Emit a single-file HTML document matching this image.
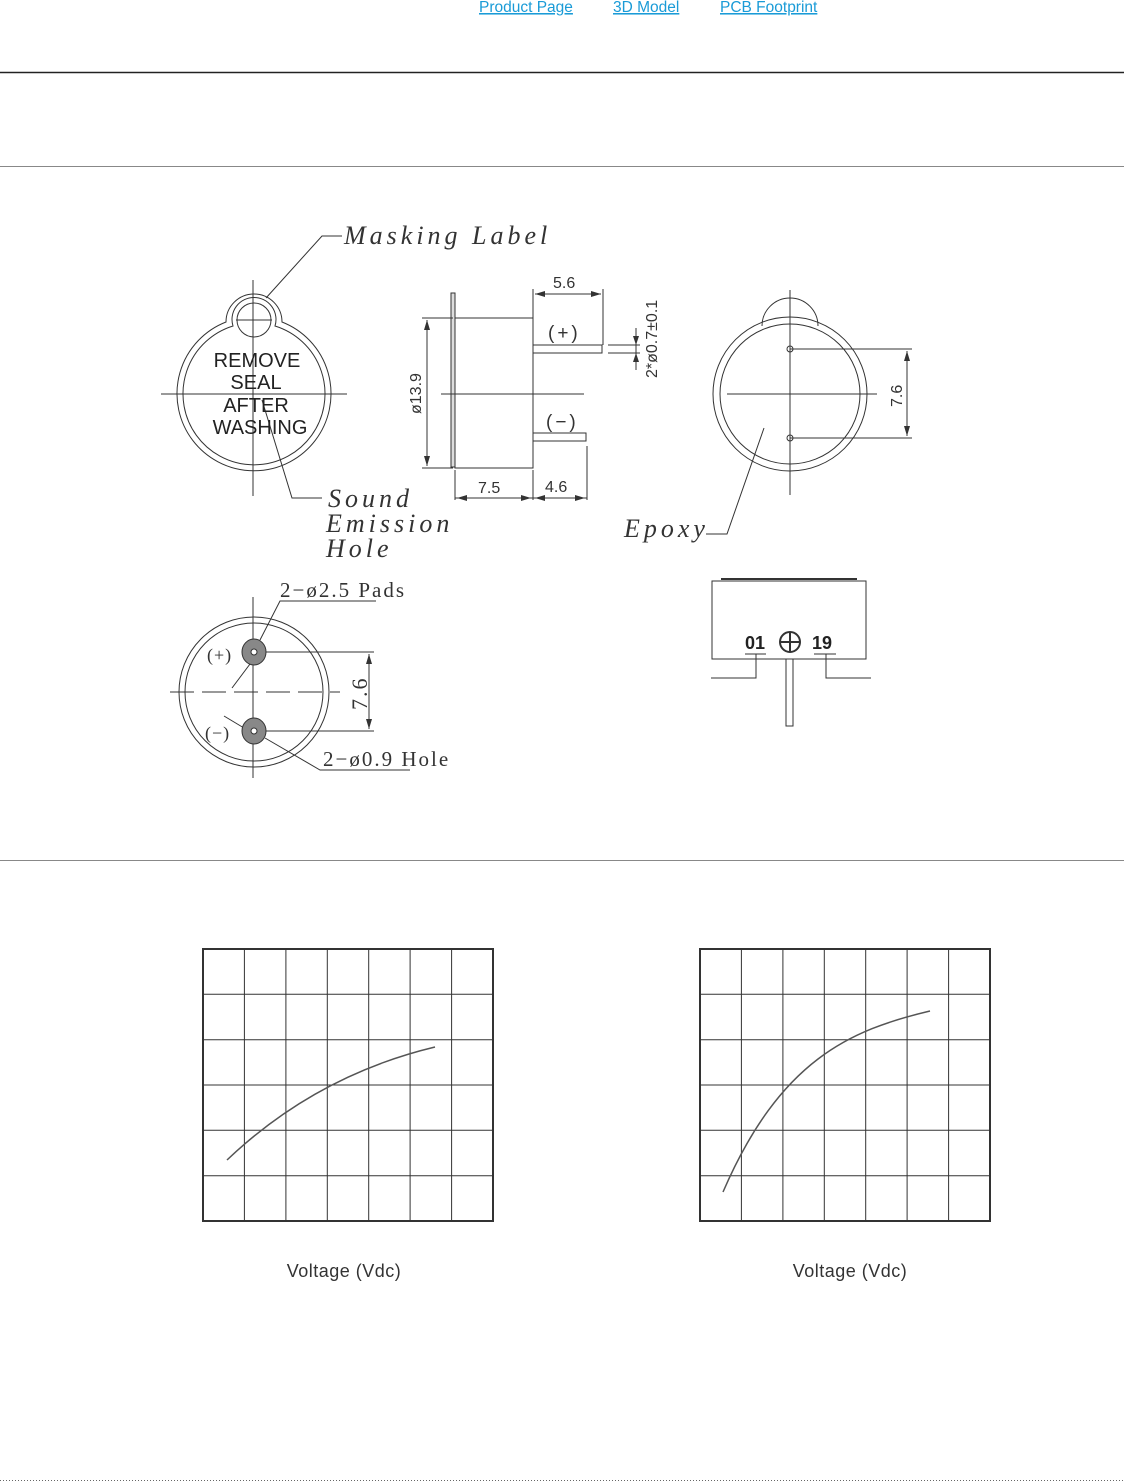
<!DOCTYPE html>
<html><head><meta charset="utf-8"><style>
html,body{margin:0;padding:0;background:#fff;width:1124px;height:1483px;overflow:hidden;font-family:"Liberation Sans",sans-serif}
svg{position:absolute;left:0;top:0}
</style></head><body>
<svg width="1124" height="1483" viewBox="0 0 1124 1483" xmlns="http://www.w3.org/2000/svg">
<g font-family="Liberation Sans, sans-serif" font-size="15.5" fill="#1a9bd7" text-decoration="underline">
<text x="479" y="12">Product Page</text><text x="613" y="12">3D Model</text><text x="720" y="12">PCB Footprint</text>
</g>
<line x1="0" y1="72.5" x2="1124" y2="72.5" stroke="#222" stroke-width="1.5"/>
<line x1="0" y1="166.5" x2="1124" y2="166.5" stroke="#888" stroke-width="1"/>
<line x1="0" y1="860.5" x2="1124" y2="860.5" stroke="#888" stroke-width="1"/>
<line x1="0" y1="1480.5" x2="1124" y2="1480.5" stroke="#666" stroke-width="1" stroke-dasharray="1,2"/>

<g stroke="#333" fill="none" stroke-width="1">
<!-- left label view -->
<path d="M226,322 A28,28 0 1 1 282,322 A77,77 0 1 1 226,322 Z"/>
<path d="M233,326 A22,22 0 1 1 275,326 A71,71 0 1 1 233,326 Z"/>
<circle cx="254" cy="320" r="17"/>
<line x1="161" y1="394" x2="347" y2="394"/>
<line x1="253" y1="280" x2="253" y2="496"/>
<line x1="236" y1="320" x2="272" y2="320"/>
<polyline points="266,298 322,236 342,236"/>
<polyline points="262,400 292,498 322,498"/>
<!-- side view -->
<rect x="451" y="293" width="4" height="174" fill="#ddd"/>
<rect x="455" y="318" width="78" height="150"/>
<rect x="533" y="345" width="69" height="8"/>
<rect x="533" y="433" width="53" height="8"/>
<line x1="608" y1="345" x2="640" y2="345"/><line x1="608" y1="353" x2="640" y2="353"/>
<line x1="636" y1="328" x2="636" y2="370"/>
<line x1="441" y1="394" x2="584" y2="394"/>
<line x1="422" y1="318" x2="453" y2="318"/><line x1="422" y1="468" x2="453" y2="468"/>
<line x1="427" y1="320" x2="427" y2="466"/>
<line x1="533" y1="289" x2="533" y2="318"/><line x1="603" y1="289" x2="603" y2="345"/>
<line x1="535" y1="294" x2="601" y2="294"/>
<line x1="455" y1="470" x2="455" y2="500"/><line x1="533" y1="470" x2="533" y2="500"/><line x1="587" y1="446" x2="587" y2="500"/>
<line x1="455" y1="498" x2="587" y2="498"/>
<!-- right front view -->
<path d="M762,326 A28,28 0 0 1 818,326"/>
<circle cx="790" cy="394" r="77"/><circle cx="790" cy="394" r="70"/>
<line x1="727" y1="394" x2="877" y2="394"/>
<line x1="790" y1="290" x2="790" y2="495"/>
<circle cx="790" cy="349" r="3"/><circle cx="790" cy="438" r="3"/>
<line x1="790" y1="349" x2="912" y2="349"/><line x1="790" y1="438" x2="912" y2="438"/>
<line x1="907" y1="351" x2="907" y2="436"/>
<polyline points="764,428 727,534 706,534"/>
<!-- pcb view -->
<circle cx="254" cy="692" r="75"/><circle cx="254" cy="692" r="69"/>
<line x1="253" y1="597" x2="253" y2="778"/>
<line x1="170" y1="692" x2="340" y2="692" stroke-dasharray="24,8"/>
<line x1="254" y1="652" x2="374" y2="652"/><line x1="254" y1="731" x2="374" y2="731"/>
<line x1="369" y1="654" x2="369" y2="729"/>
<polyline points="376,601 280,601 260,640"/>
<line x1="232" y1="688" x2="250" y2="664"/>
<polyline points="410,770 320,770 265,738"/>
<line x1="224" y1="716" x2="244" y2="728"/>
<!-- bottom right side view -->
<rect x="712" y="581" width="154" height="78"/>
<line x1="721" y1="579" x2="857" y2="579" stroke-width="2"/>
<rect x="786" y="659" width="7" height="67"/>
<polyline points="745,654 766,654"/><polyline points="756,654 756,678 711,678"/>
<polyline points="814,654 836,654"/><polyline points="826,654 826,678 871,678"/>
<circle cx="790" cy="642" r="10" stroke-width="2"/>
<line x1="780" y1="642" x2="800" y2="642" stroke-width="2"/><line x1="790" y1="632" x2="790" y2="652" stroke-width="2"/>
</g>
<g fill="#333">
<polygon points="427,320 424,330 430,330"/><polygon points="427,466 424,456 430,456"/>
<polygon points="535,294 545,291 545,297"/><polygon points="601,294 591,291 591,297"/>
<polygon points="457,498 467,495 467,501"/><polygon points="531,498 521,495 521,501"/>
<polygon points="535,498 545,495 545,501"/><polygon points="585,498 575,495 575,501"/>
<polygon points="907,351 904,361 910,361"/><polygon points="907,436 904,426 910,426"/>
<polygon points="369,654 366,664 372,664"/><polygon points="369,729 366,719 372,719"/>
<polygon points="636,353 633,362 639,362"/><polygon points="636,345 633,336 639,336"/>
</g>
<g fill="#888" stroke="#333"><ellipse cx="254" cy="652" rx="12" ry="13"/><ellipse cx="254" cy="731" rx="12" ry="13"/></g>
<g fill="#fff" stroke="#333"><circle cx="254" cy="652" r="3"/><circle cx="254" cy="731" r="3"/></g>

<g font-family="Liberation Serif, serif" font-style="italic" font-size="26" fill="#333" letter-spacing="4">
<text x="344" y="244">Masking  Label</text>
<text x="328" y="507">Sound</text><text x="326" y="532">Emission</text><text x="326" y="557">Hole</text>
<text x="624" y="537">Epoxy</text>
</g>
<g font-family="Liberation Sans, sans-serif" font-size="20" fill="#222" text-anchor="middle">
<text x="257" y="367">REMOVE</text><text x="256" y="389">SEAL</text><text x="256" y="412">AFTER</text><text x="260" y="434">WASHING</text>
</g>
<g font-family="Liberation Sans, sans-serif" font-size="16" fill="#333">
<text x="553" y="288">5.6</text><text x="478" y="493">7.5</text><text x="545" y="492">4.6</text>
<text x="548" y="339" font-size="19" letter-spacing="3">(+)</text><text x="546" y="428" font-size="19" letter-spacing="3">(−)</text>
<text transform="translate(421,414) rotate(-90)">ø13.9</text>
<text transform="translate(657,378) rotate(-90)">2*ø0.7±0.1</text>
<text transform="translate(902,407) rotate(-90)">7.6</text>
</g>
<g font-family="Liberation Serif, serif" font-size="21" fill="#333" letter-spacing="2">
<text x="280" y="597">2−ø2.5  Pads</text>
<text x="323" y="766">2−ø0.9  Hole</text>
<text x="207" y="661" font-size="18" letter-spacing="1">(+)</text><text x="205" y="739" font-size="18" letter-spacing="1">(−)</text>
<text transform="translate(367,710) rotate(-90)" font-size="22">7.6</text>
</g>
<g font-family="Liberation Sans, sans-serif" font-size="18" font-weight="bold" fill="#222">
<text x="745" y="649">01</text><text x="812" y="649">19</text>
</g>

<g stroke="#333" stroke-width="1" fill="none">
<rect x="203" y="949" width="290" height="272" stroke-width="2"/>
<path d="M244.4,949V1221M285.9,949V1221M327.3,949V1221M368.7,949V1221M410.1,949V1221M451.6,949V1221M203,994.3H493M203,1039.7H493M203,1085H493M203,1130.3H493M203,1175.7H493"/>
<path d="M227,1160 C290,1100 360,1065 435,1047" stroke="#555" stroke-width="1.5"/>
<rect x="700" y="949" width="290" height="272" stroke-width="2"/>
<path d="M741.4,949V1221M782.9,949V1221M824.3,949V1221M865.7,949V1221M907.1,949V1221M948.6,949V1221M700,994.3H990M700,1039.7H990M700,1085H990M700,1130.3H990M700,1175.7H990"/>
<path d="M723,1192 C780,1060 850,1030 930,1011" stroke="#555" stroke-width="1.5"/>
</g>
<g font-family="Liberation Sans, sans-serif" font-size="18" fill="#333" text-anchor="middle" letter-spacing="0.5">
<text x="344" y="1277">Voltage (Vdc)</text><text x="850" y="1277">Voltage (Vdc)</text>
</g>
</svg>
</body></html>
